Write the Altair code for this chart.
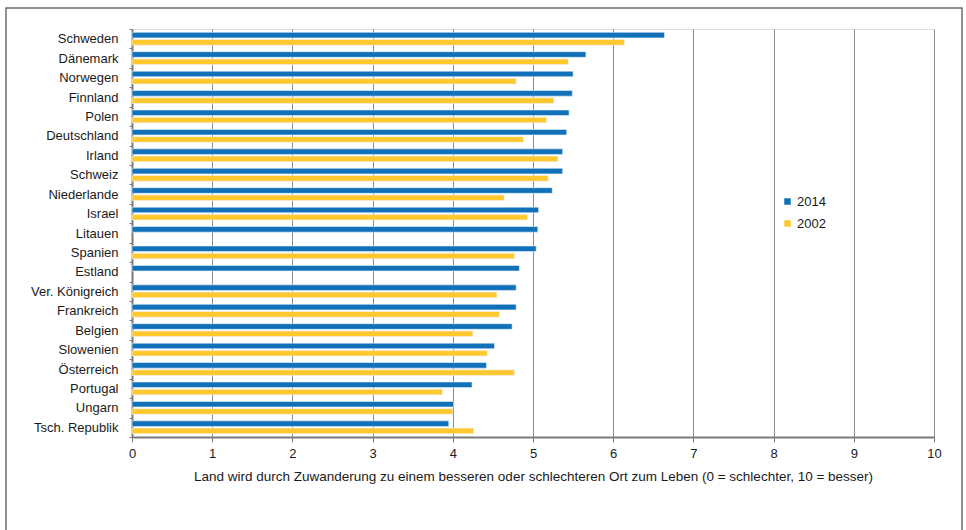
import altair as alt
import pandas as pd

# Länder, von oben nach unten
countries = [
    "Schweden", "Dänemark", "Norwegen", "Finnland", "Polen", "Deutschland",
    "Irland", "Schweiz", "Niederlande", "Israel", "Litauen", "Spanien",
    "Estland", "Ver. Königreich", "Frankreich", "Belgien", "Slowenien",
    "Österreich", "Portugal", "Ungarn", "Tsch. Republik",
]

# Mittelwerte 2014 und 2002 (None = keine Erhebung)
values_2014 = [6.64, 5.66, 5.50, 5.49, 5.45, 5.42, 5.37, 5.37, 5.24, 5.07, 5.06,
               5.04, 4.83, 4.79, 4.79, 4.74, 4.52, 4.42, 4.24, 4.01, 3.95]
values_2002 = [6.14, 5.44, 4.79, 5.26, 5.17, 4.88, 5.31, 5.19, 4.64, 4.93, None,
               4.77, None, 4.55, 4.58, 4.25, 4.43, 4.77, 3.87, 4.00, 4.26]

years = ["2014", "2002"]
year_colors = ["#1070b8", "#fec82e"]
x_ticks = list(range(0, 11))

x_title = ("Land wird durch Zuwanderung zu einem besseren oder schlechteren "
           "Ort zum Leben (0 = schlechter, 10 = besser)")

rows = []
for land, a, b in zip(countries, values_2014, values_2002):
    rows.append({"Land": land, "Jahr": "2014", "Wert": a})
    if b is not None:
        rows.append({"Land": land, "Jahr": "2002", "Wert": b})
df = pd.DataFrame(rows)

FONT = "Liberation Sans"

bars = alt.Chart(df).mark_bar(stroke="#eef4fa", strokeWidth=0.6).encode(
    x=alt.X(
        "Wert:Q",
        scale=alt.Scale(domain=[0, 10], nice=False),
        axis=alt.Axis(
            values=x_ticks, title=x_title, grid=True, gridColor="#8c8c8c",
            gridWidth=1, domainColor="#7a7a7a", domainWidth=2,
            tickColor="#7a7a7a", tickSize=5, labelPadding=5, labelFlush=False,
            labelFontSize=13, titleFontSize=13.5, titleFontWeight="normal",
            titlePadding=9, labelFont=FONT, titleFont=FONT,
            labelColor="#1a1a1a", titleColor="#1a1a1a",
        ),
    ),
    y=alt.Y(
        "Land:N",
        sort=countries,
        scale=alt.Scale(paddingInner=0, paddingOuter=0),
        axis=alt.Axis(
            title=None, grid=False, tickBand="extent", tickSize=3,
            tickColor="#7a7a7a", domainColor="#7a7a7a", domainWidth=2,
            labelPadding=11, labelFontSize=13, labelFont=FONT,
            labelColor="#1a1a1a",
        ),
    ),
    yOffset=alt.YOffset(
        "Jahr:N", sort=years,
        scale=alt.Scale(paddingInner=0.23, paddingOuter=0.45),
    ),
    color=alt.Color(
        "Jahr:N",
        scale=alt.Scale(domain=years, range=year_colors),
        legend=alt.Legend(
            title=None, orient="none", legendX=649, legendY=166,
            symbolType="square", symbolSize=42, symbolStrokeWidth=0,
            labelFontSize=13, labelFont=FONT, labelColor="#1a1a1a",
            rowPadding=8, labelOffset=3, padding=0,
        ),
    ),
)

# Rahmen um die gesamte Grafik
frame = alt.Chart(pd.DataFrame({"r": [0]})).mark_rect(
    fillOpacity=0, stroke="#6e6e6e", strokeWidth=1.5
).encode(
    x=alt.value(-126), x2=alt.value(830),
    y=alt.value(-21), y2=alt.value(530),
)

chart = alt.layer(frame, bars).properties(
    width=802,
    height=408,
    padding={"left": 132, "top": 29, "right": 32, "bottom": 93},
    autosize=alt.AutoSizeParams(type="none"),
).configure_view(stroke=None).configure(background="white")

chart.save("out.html", embed_options={"renderer": "svg", "actions": False})
